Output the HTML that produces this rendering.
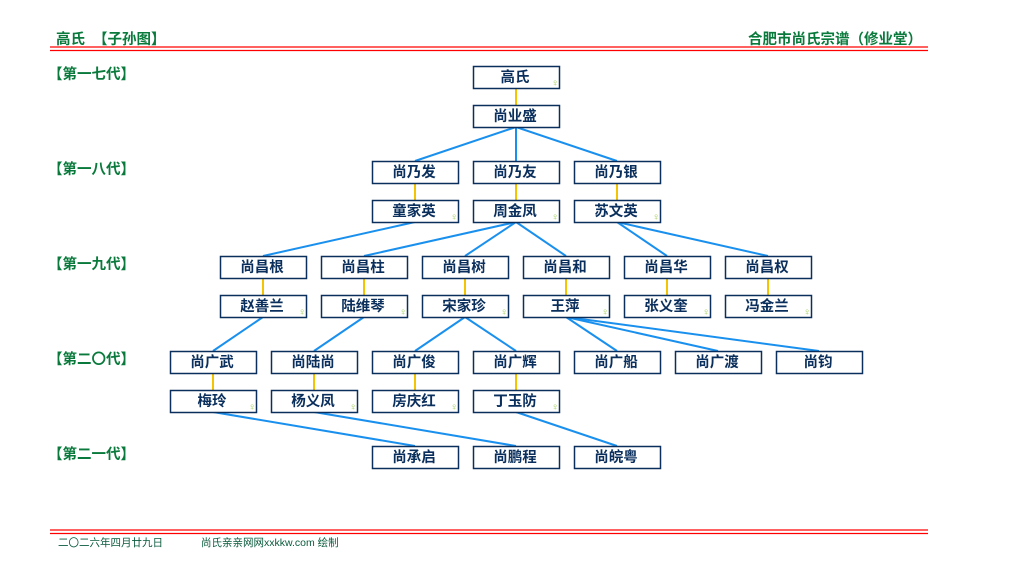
<!DOCTYPE html>
<html><head><meta charset="utf-8"><style>
html,body{margin:0;padding:0;background:#fff;width:1027px;height:580px;overflow:hidden}
text{font-family:"Liberation Sans","Noto Sans CJK SC",sans-serif}
</style></head><body>
<svg width="1027" height="580" viewBox="0 0 1027 580" xmlns="http://www.w3.org/2000/svg">
<g font-weight="bold" fill="#0a7a3c" font-size="14.5">
<text x="56" y="44" xml:space="preserve">高氏  【子孙图】</text>
<text x="922" y="44" text-anchor="end">合肥市尚氏宗谱（修业堂）</text>
<text x="48" y="79">【第一七代】</text>
<text x="48" y="174">【第一八代】</text>
<text x="48" y="269">【第一九代】</text>
<text x="48" y="364">【第二〇代】</text>
<text x="48" y="459">【第二一代】</text>
</g>
<g stroke="#f00" stroke-width="1.3">
<line x1="50" y1="47" x2="928" y2="47"/><line x1="50" y1="50.5" x2="928" y2="50.5"/>
<line x1="50" y1="530" x2="928" y2="530"/><line x1="50" y1="533.5" x2="928" y2="533.5"/>
</g>
<g font-size="10.5" fill="#0a5a3c">
<text x="58" y="546">二〇二六年四月廿九日</text>
<text x="201" y="546">尚氏亲亲网网xxkkw.com 绘制</text>
</g>
<g stroke="#f5c400" stroke-width="2">
<line x1="516" y1="88" x2="516" y2="105"/>
<line x1="415" y1="183" x2="415" y2="200"/><line x1="516" y1="183" x2="516" y2="200"/><line x1="617" y1="183" x2="617" y2="200"/>
<line x1="263" y1="278" x2="263" y2="295"/><line x1="364" y1="278" x2="364" y2="295"/><line x1="465" y1="278" x2="465" y2="295"/><line x1="566" y1="278" x2="566" y2="295"/><line x1="667" y1="278" x2="667" y2="295"/><line x1="768" y1="278" x2="768" y2="295"/>
<line x1="213" y1="373" x2="213" y2="390"/><line x1="314" y1="373" x2="314" y2="390"/><line x1="415" y1="373" x2="415" y2="390"/><line x1="516" y1="373" x2="516" y2="390"/>
</g>
<g stroke="#1a90ee" stroke-width="2">
<line x1="516" y1="127" x2="415" y2="161"/><line x1="516" y1="127" x2="516" y2="161"/><line x1="516" y1="127" x2="617" y2="161"/>
<line x1="415" y1="222" x2="263" y2="256"/>
<line x1="516" y1="222" x2="364" y2="256"/><line x1="516" y1="222" x2="465" y2="256"/><line x1="516" y1="222" x2="566" y2="256"/>
<line x1="617" y1="222" x2="667" y2="256"/><line x1="617" y1="222" x2="768" y2="256"/>
<line x1="263" y1="317" x2="213" y2="351"/>
<line x1="364" y1="317" x2="314" y2="351"/>
<line x1="465" y1="317" x2="415" y2="351"/><line x1="465" y1="317" x2="516" y2="351"/>
<line x1="566" y1="317" x2="617" y2="351"/><line x1="566" y1="317" x2="718" y2="351"/><line x1="566" y1="317" x2="819" y2="351"/>
<line x1="213" y1="412" x2="415" y2="446"/>
<line x1="314" y1="412" x2="516" y2="446"/>
<line x1="516" y1="412" x2="617" y2="446"/>
</g>
<g fill="#fff" stroke="#0a2f5c" stroke-width="1.5">
<rect x="473.5" y="66.5" width="86" height="22"/><rect x="473.5" y="105.5" width="86" height="22"/>
<rect x="372.5" y="161.5" width="86" height="22"/><rect x="473.5" y="161.5" width="86" height="22"/><rect x="574.5" y="161.5" width="86" height="22"/>
<rect x="372.5" y="200.5" width="86" height="22"/><rect x="473.5" y="200.5" width="86" height="22"/><rect x="574.5" y="200.5" width="86" height="22"/>
<rect x="220.5" y="256.5" width="86" height="22"/><rect x="321.5" y="256.5" width="86" height="22"/><rect x="422.5" y="256.5" width="86" height="22"/><rect x="523.5" y="256.5" width="86" height="22"/><rect x="624.5" y="256.5" width="86" height="22"/><rect x="725.5" y="256.5" width="86" height="22"/>
<rect x="220.5" y="295.5" width="86" height="22"/><rect x="321.5" y="295.5" width="86" height="22"/><rect x="422.5" y="295.5" width="86" height="22"/><rect x="523.5" y="295.5" width="86" height="22"/><rect x="624.5" y="295.5" width="86" height="22"/><rect x="725.5" y="295.5" width="86" height="22"/>
<rect x="170.5" y="351.5" width="86" height="22"/><rect x="271.5" y="351.5" width="86" height="22"/><rect x="372.5" y="351.5" width="86" height="22"/><rect x="473.5" y="351.5" width="86" height="22"/><rect x="574.5" y="351.5" width="86" height="22"/><rect x="675.5" y="351.5" width="86" height="22"/><rect x="776.5" y="351.5" width="86" height="22"/>
<rect x="170.5" y="390.5" width="86" height="22"/><rect x="271.5" y="390.5" width="86" height="22"/><rect x="372.5" y="390.5" width="86" height="22"/><rect x="473.5" y="390.5" width="86" height="22"/>
<rect x="372.5" y="446.5" width="86" height="22"/><rect x="473.5" y="446.5" width="86" height="22"/><rect x="574.5" y="446.5" width="86" height="22"/>
</g>
<g font-size="14.5" font-weight="bold" fill="#0a2f5c" text-anchor="middle">
<text x="515" y="82">高氏</text><text x="515" y="121">尚业盛</text>
<text x="414" y="177">尚乃发</text><text x="515" y="177">尚乃友</text><text x="616" y="177">尚乃银</text>
<text x="414" y="216">童家英</text><text x="515" y="216">周金凤</text><text x="616" y="216">苏文英</text>
<text x="262" y="272">尚昌根</text><text x="363" y="272">尚昌柱</text><text x="464" y="272">尚昌树</text><text x="565" y="272">尚昌和</text><text x="666" y="272">尚昌华</text><text x="767" y="272">尚昌权</text>
<text x="262" y="311">赵善兰</text><text x="363" y="311">陆维琴</text><text x="464" y="311">宋家珍</text><text x="565" y="311">王萍</text><text x="666" y="311">张义奎</text><text x="767" y="311">冯金兰</text>
<text x="212" y="367">尚广武</text><text x="313" y="367">尚陆尚</text><text x="414" y="367">尚广俊</text><text x="515" y="367">尚广辉</text><text x="616" y="367">尚广船</text><text x="717" y="367">尚广渡</text><text x="818" y="367">尚钧</text>
<text x="212" y="406">梅玲</text><text x="313" y="406">杨义凤</text><text x="414" y="406">房庆红</text><text x="515" y="406">丁玉防</text>
<text x="414" y="462">尚承启</text><text x="515" y="462">尚鹏程</text><text x="616" y="462">尚皖粤</text>
</g>
<g font-size="10" fill="#9ccc50" text-anchor="middle" font-family="DejaVu Sans, sans-serif">
<text x="555" y="86" font-family="DejaVu Sans, sans-serif">♀</text>
<text x="454" y="220" font-family="DejaVu Sans, sans-serif">♀</text><text x="555" y="220" font-family="DejaVu Sans, sans-serif">♀</text><text x="656" y="220" font-family="DejaVu Sans, sans-serif">♀</text>
<text x="302" y="315" font-family="DejaVu Sans, sans-serif">♀</text><text x="403" y="315" font-family="DejaVu Sans, sans-serif">♀</text><text x="504" y="315" font-family="DejaVu Sans, sans-serif">♀</text><text x="605" y="315" font-family="DejaVu Sans, sans-serif">♀</text><text x="706" y="315" font-family="DejaVu Sans, sans-serif">♀</text><text x="807" y="315" font-family="DejaVu Sans, sans-serif">♀</text>
<text x="252" y="410" font-family="DejaVu Sans, sans-serif">♀</text><text x="353" y="410" font-family="DejaVu Sans, sans-serif">♀</text><text x="454" y="410" font-family="DejaVu Sans, sans-serif">♀</text><text x="555" y="410" font-family="DejaVu Sans, sans-serif">♀</text>
</g>
</svg>
</body></html>
